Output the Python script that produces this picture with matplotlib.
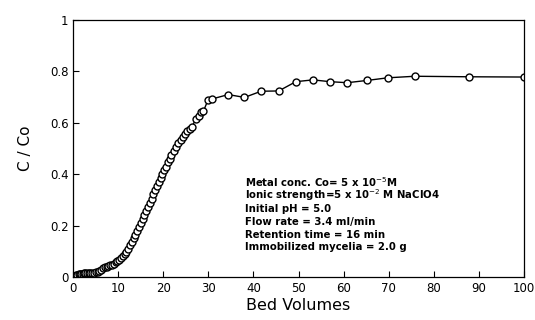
import numpy as np
from matplotlib import pyplot as plt

# breakthrough curve
bed_vol = [0.0, 0.3, 0.6, 0.9, 1.2, 1.5, 1.8, 2.1, 2.4, 2.7, 3.0, 3.4, 3.8, 4.2, 4.6,
           5.0, 5.4, 5.8, 6.2, 6.6, 7.0, 7.4, 7.8, 8.2, 8.6, 9.0, 9.4, 9.8, 10.2,
           10.6, 11.0, 11.4, 11.8, 12.2, 12.6, 13.0, 13.4, 13.8, 14.2, 14.6, 15.0,
           15.4, 15.8, 16.2, 16.6, 17.0, 17.4, 17.8, 18.2, 18.6, 19.0, 19.4, 19.8,
           20.2, 20.6, 21.0, 21.4, 21.8, 22.3, 22.8, 23.3, 23.8, 24.3, 24.8, 25.3,
           25.8, 26.3, 27.3, 27.8, 28.4, 28.9, 29.9, 30.8,
           34.4, 38.0, 41.7, 45.6, 49.4, 53.2, 57.0, 60.8, 65.3, 69.8, 75.8, 87.8, 100.0]
c_co = [0.0, 0.005, 0.008, 0.010, 0.012, 0.013, 0.015, 0.015, 0.016, 0.016, 0.017,
        0.017, 0.018, 0.018, 0.018, 0.020, 0.022, 0.025, 0.030, 0.036, 0.040, 0.042,
        0.044, 0.047, 0.050, 0.054, 0.058, 0.063, 0.068, 0.074, 0.082, 0.090, 0.100,
        0.112, 0.125, 0.138, 0.152, 0.166, 0.180, 0.195, 0.210, 0.226, 0.242, 0.258,
        0.274, 0.290, 0.306, 0.322, 0.338, 0.354, 0.370, 0.386, 0.400, 0.416, 0.430,
        0.446, 0.460, 0.474, 0.490, 0.505, 0.520, 0.532, 0.545, 0.556, 0.566, 0.575,
        0.585, 0.615, 0.625, 0.640, 0.645, 0.688, 0.692,
        0.709, 0.698, 0.722, 0.723, 0.759, 0.766, 0.759, 0.755, 0.764, 0.774, 0.780,
        0.778, 0.777]

xticks = [0, 10, 20, 30, 40, 50, 60, 70, 80, 90, 100]
yticks = [0, 0.2, 0.4, 0.6, 0.8, 1]
ylabels = ['0', '0.2', '0.4', '0.6', '0.8', '1']

info = [r'Metal conc. Co= 5 x 10$^{-5}$M',
        r'Ionic strength=5 x 10$^{-2}$ M NaClO4',
        'Initial pH = 5.0',
        'Flow rate = 3.4 ml/min',
        'Retention time = 16 min',
        'Immobilized mycelia = 2.0 g']

fig = plt.figure(figsize=(5.35, 3.2), dpi=100)
ax = fig.add_axes([0.137, 0.133, 0.842, 0.806])

ax.plot(bed_vol, c_co, '-', color='black', lw=1.0, marker='o', ms=5,
        mfc='white', mec='black', mew=1.0)

ax.set_xlim(0, 100)
ax.set_ylim(0, 1)
ax.set_xticks(xticks)
ax.set_yticks(yticks)
ax.set_yticklabels(ylabels)
ax.tick_params(direction='in', length=4, labelsize=8.5, width=0.8)
for s in ax.spines.values():
    s.set_linewidth(0.9)

ax.set_xlabel('Bed Volumes', fontsize=11.5, labelpad=2)
ax.set_ylabel('C / Co', fontsize=11, labelpad=12)

# one line at a time so the superscripts do not change the spacing
for i, line in enumerate(info):
    ax.text(38.2, 0.352 - i * 0.0495, line, fontsize=7.3, va='baseline',
            ha='left', fontweight='bold')

plt.savefig('out.png', dpi=100)
